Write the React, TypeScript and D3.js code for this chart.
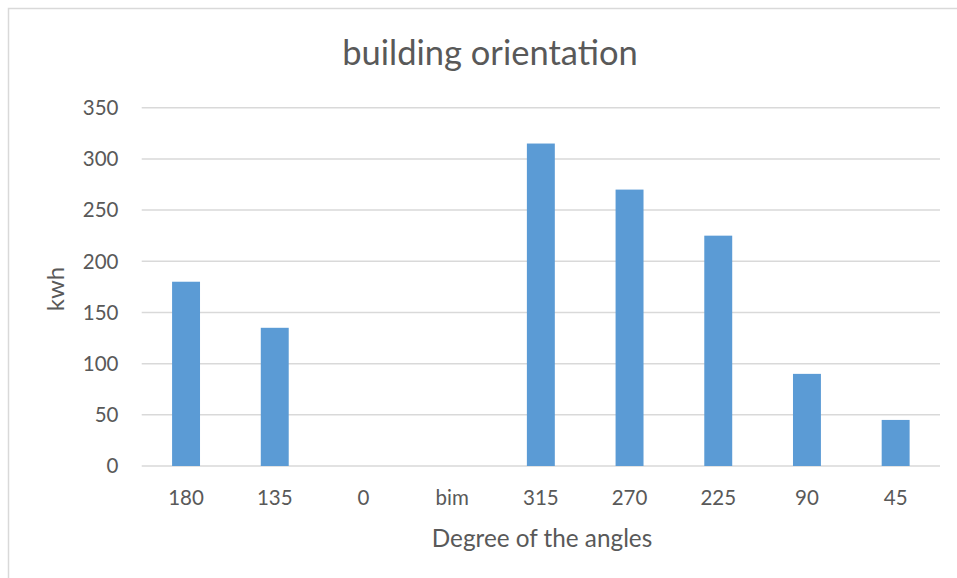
import React from "react";
import * as d3 from "d3";

const categories = ["180", "135", "0", "bim", "315", "270", "225", "90", "45"];
const values = [180, 135, 0, 0, 315, 270, 225, 90, 45];
const yTicks = [0, 50, 100, 150, 200, 250, 300, 350];
const title = "building orientation";
const xTitle = "Degree of the angles";
const yTitle = "kwh";

export default function App() {
  const W = 957, H = 578;
  const left = 141.7, right = 940, top = 107.7, bottom = 466;
  const x = d3.scaleBand<string>().domain(categories).range([left, right]).paddingInner(0.685).paddingOuter(0.3425);
  const y = d3.scaleLinear().domain([0, 350]).range([bottom, top]);
  const font = "Lato, 'Open Sans', sans-serif";
  const textColor = "#595959";
  return (
    <svg width={W} height={H} style={{ position: "absolute", left: 0, top: 0 }}>
      <rect x={0} y={0} width={W} height={H} fill="#fff" />
      <rect x={8.5} y={8.5} width={W + 10} height={H + 10} fill="#fff" stroke="#d9d9d9" strokeWidth={1.5} />
      <text x={490} y={65} textAnchor="middle" fontFamily={font} fontSize={34.5} fill={textColor}>{title}</text>
      {yTicks.map((t) => (
        <g key={t}>
          <line x1={left} x2={right} y1={y(t)} y2={y(t)} stroke="#d9d9d9" strokeWidth={1.5} />
          <text x={118.5} y={y(t)} dy="0.36em" textAnchor="end" fontFamily={font} fontSize={20.5} fill={textColor}>{t}</text>
        </g>
      ))}
      {categories.map((c, i) => (
        <g key={c}>
          {values[i] > 0 && (
            <rect x={x(c)} y={y(values[i])} width={x.bandwidth()} height={y(0) - y(values[i])} fill="#5B9BD5" />
          )}
          <text x={(x(c) as number) + x.bandwidth() / 2} y={505} textAnchor="middle" fontFamily={font} fontSize={20.5} fill={textColor}>{c}</text>
        </g>
      ))}
      <text x={542} y={547} textAnchor="middle" fontFamily={font} fontSize={24.3} fill={textColor}>{xTitle}</text>
      <text transform={`translate(64,289) rotate(-90)`} textAnchor="middle" fontFamily={font} fontSize={24} fill={textColor}>{yTitle}</text>
    </svg>
  );
}
